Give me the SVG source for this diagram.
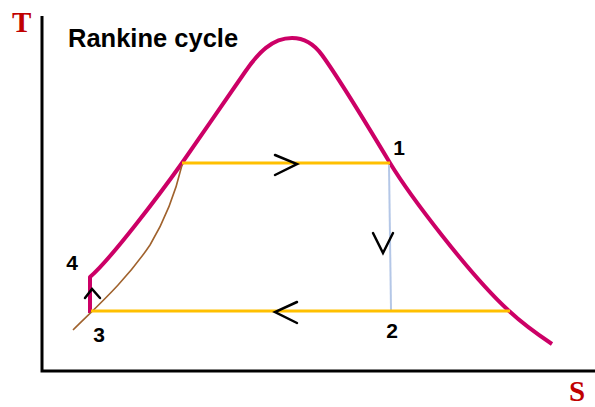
<svg xmlns="http://www.w3.org/2000/svg" width="595" height="407" viewBox="0 0 595 407">
<style>
.axis{stroke:#000;stroke-width:3;fill:none}
.axlbl{font-family:"Liberation Serif",serif;font-weight:bold;font-size:29px;fill:#c00000}
.dome{stroke:#cc0066;stroke-width:4;fill:none;stroke-linejoin:round}
.iso{stroke:#ffc000;stroke-width:3;fill:none}
.turb{stroke:#b4c7e7;stroke-width:2;fill:none}
.liq{stroke:#a0622d;stroke-width:1.6;fill:none}
.chev{stroke:#000;stroke-width:2.5;fill:none;stroke-linecap:round;stroke-linejoin:miter}
.num{font-family:"Liberation Sans",Arial,sans-serif;font-weight:bold;font-size:21px;fill:#000}
.title{font-family:"Liberation Sans",Arial,sans-serif;font-weight:bold;font-size:25.5px;fill:#000}
</style>
<rect width="595" height="407" fill="#fff"/>
<g id="axes">
<path class="axis" d="M42,16 V371 H595"/>
<text class="axlbl" x="12" y="32">T</text>
<text class="axlbl" x="569" y="401">S</text>
</g>
<text id="title" class="title" x="68" y="47">Rankine cycle</text>
<g id="dome">
<path class="dome" d="M90,313 V277 C110,260 160,194 182,163 C200,137 232,91 245,72 C258,53 272,38 292,38 C305,38 314,44 322,55 C335,73 372,133 390,163 C410,196 470,275 508,310 C525,326 540,336 552,344"/>
</g>
<g id="connectors">
<path class="liq" d="M73,330 C95,308 125,282 150,245 C165,220 175,195 182,165"/>
<path class="iso" d="M182,163 H390"/>
<path class="turb" d="M389,165 L391,310"/>
<path class="iso" d="M91,311 H510"/>
<path class="chev" d="M275,155 L297,164 L275,175"/>
<path class="chev" d="M297,302 L275,312 L297,323"/>
<path class="chev" d="M373,233 L383,253 L393,233"/>
<path class="chev" d="M85,298 L92,289 L100,298"/>
</g>
<g id="labels">
<text class="num" x="399" y="155" text-anchor="middle">1</text>
<text class="num" x="392" y="338" text-anchor="middle">2</text>
<text class="num" x="99" y="342" text-anchor="middle">3</text>
<text class="num" x="72" y="270" text-anchor="middle">4</text>
</g>
</svg>
